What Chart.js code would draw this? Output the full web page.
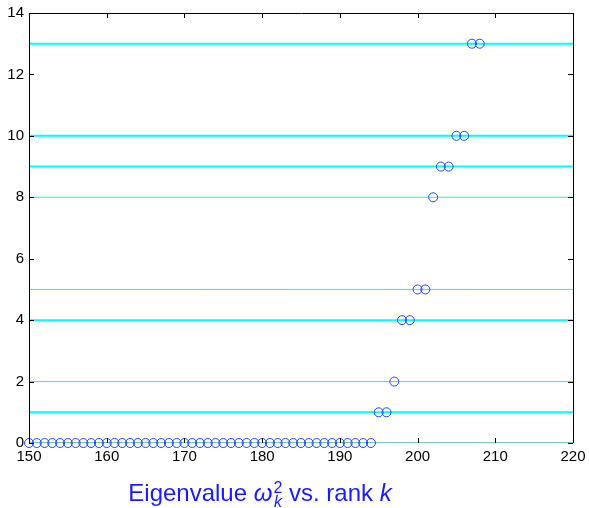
<!DOCTYPE html>
<html>
<head>
<meta charset="utf-8">
<script src="https://cdn.jsdelivr.net/npm/chart.js@4"></script>
<style>
  body { margin: 0; background: #fff; }
  #wrap { position: relative; width: 589px; height: 508px; }
  #xlabel {
    position: absolute; left: 0; width: 520px; top: 479px;
    text-align: center; color: #1a1aff;
    font-family: 'Liberation Sans', Arial, Helvetica, sans-serif; font-size: 24px;
    white-space: nowrap;
  }
  #xlabel .ss { display: inline-block; vertical-align: -6px; line-height: 14px; font-size: 16px; margin-left: 1px; }
  #xlabel .ss span { display: block; }
</style>
</head>
<body>
<div id="wrap">
  <canvas id="chart" width="589" height="508"></canvas>
  <div id="xlabel">Eigenvalue <i>ω</i><span class="ss"><span>2</span><span><i>k</i></span></span> vs. rank <i>k</i></div>
</div>
<script>
Chart.defaults.font.family = "'Liberation Sans', Arial, Helvetica, sans-serif";
Chart.defaults.font.size = 15;
Chart.defaults.color = "#000";

// ranks whose eigenvalue is zero
const zeroRanks = [150, 151, 152, 153, 154, 155, 156, 157, 158, 159, 160, 161, 162, 163, 164,
  165, 166, 167, 168, 169, 170, 171, 172, 173, 174, 175, 176, 177, 178, 179, 180, 181, 182,
  183, 184, 185, 186, 187, 188, 189, 190, 191, 192, 193, 194];
const zeroValues = [0, 0, 0, 0, 0, 0, 0, 0, 0, 0, 0, 0, 0, 0, 0, 0, 0, 0, 0, 0, 0, 0, 0,
  0, 0, 0, 0, 0, 0, 0, 0, 0, 0, 0, 0, 0, 0, 0, 0, 0, 0, 0, 0, 0, 0];
// nonzero eigenvalues
const eigenRanks = [195, 196, 197, 198, 199, 200, 201, 202, 203, 204, 205, 206, 207, 208];
const eigenValues = [1, 1, 2, 4, 4, 5, 5, 8, 9, 9, 10, 10, 13, 13];
// horizontal reference levels
const levels = [0, 1, 2, 4, 5, 8, 9, 10, 13];
const levelWidths = [1, 2, 1, 2, 1, 1, 2, 2, 2];

const xMin = 150, xMax = 220, xStep = 10;
const yMin = 0, yMax = 14, yStep = 2;

const points = zeroRanks.map((r, i) => ({ x: r, y: zeroValues[i] }))
  .concat(eigenRanks.map((r, i) => ({ x: r, y: eigenValues[i] })));

const lineSets = levels.map((v, i) => ({
  type: "line",
  data: [{ x: xMin, y: v }, { x: xMax, y: v }],
  borderColor: v === 0 ? "#008c8c" : "#00ffff",
  borderWidth: levelWidths[i],
  pointRadius: 0,
  showLine: true,
  order: 2,
}));

// black box with inward ticks on all four sides
const boxPlugin = {
  id: "box",
  afterDatasetsDraw(chart) {
    const { ctx, chartArea: a, scales } = chart;
    ctx.save();
    ctx.strokeStyle = "#000";
    ctx.lineWidth = 1;
    ctx.beginPath();
    for (let v = xMin; v <= xMax; v += xStep) {
      const px = Math.round(scales.x.getPixelForValue(v)) + 0.5;
      ctx.moveTo(px, a.bottom); ctx.lineTo(px, a.bottom - 5);
      ctx.moveTo(px, a.top); ctx.lineTo(px, a.top + 5);
    }
    for (let v = yMin; v <= yMax; v += yStep) {
      const py = Math.round(scales.y.getPixelForValue(v)) + 0.5;
      ctx.moveTo(a.left, py); ctx.lineTo(a.left + 5, py);
      ctx.moveTo(a.right, py); ctx.lineTo(a.right - 5, py);
    }
    ctx.stroke();
    ctx.beginPath();
    ctx.moveTo(Math.round(a.left) + 0.5, Math.round(a.bottom));
    ctx.lineTo(Math.round(a.left) + 0.5, Math.round(a.top) + 0.5);
    ctx.lineTo(Math.round(a.right) + 0.5, Math.round(a.top) + 0.5);
    ctx.lineTo(Math.round(a.right) + 0.5, Math.round(a.bottom));
    ctx.stroke();
    ctx.restore();
  },
};

new Chart(document.getElementById("chart"), {
  type: "scatter",
  data: {
    datasets: [
      {
        data: points,
        pointStyle: "circle",
        pointRadius: 4.5,
        pointBorderWidth: 1,
        pointBackgroundColor: "rgba(0,0,0,0)",
        pointBorderColor: "#2244ff",
        showLine: false,
        clip: false,
        order: 1,
      },
    ].concat(lineSets),
  },
  options: {
    responsive: false,
    animation: false,
    events: [],
    layout: { padding: { top: 13, right: 16, bottom: 0, left: 0 } },
    plugins: { legend: { display: false }, tooltip: { enabled: false } },
    scales: {
      x: {
        type: "linear",
        min: xMin, max: xMax,
        grid: { display: false, drawTicks: false },
        border: { display: false },
        ticks: { stepSize: xStep, padding: 5, maxRotation: 0 },
        afterFit(scale) {
          scale.height = 65;
          scale.paddingLeft = 0;
          scale.paddingRight = 0;
        },
      },
      y: {
        type: "linear",
        min: yMin, max: yMax,
        grid: { display: false, drawTicks: false },
        border: { display: false },
        ticks: { stepSize: yStep, padding: 5 },
        afterFit(scale) {
          scale.width = 29;
          scale.paddingTop = 0;
          scale.paddingBottom = 0;
        },
      },
    },
  },
  plugins: [boxPlugin],
});
</script>
</body>
</html>
